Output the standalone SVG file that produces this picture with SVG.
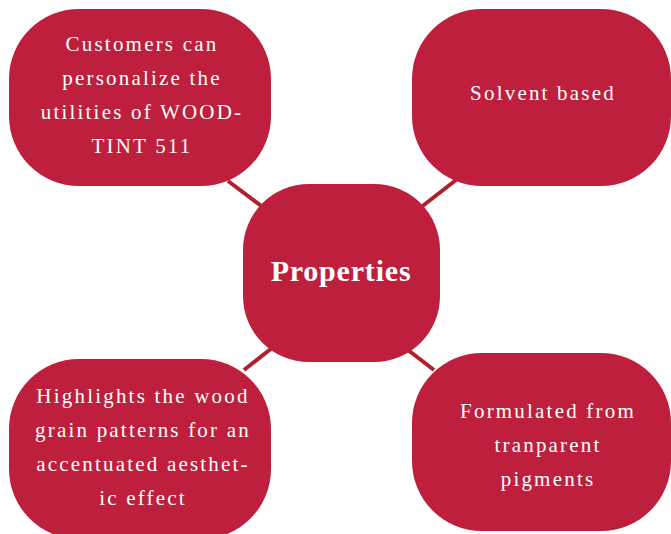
<svg xmlns="http://www.w3.org/2000/svg" width="671" height="534" viewBox="0 0 671 534">
<style>
.box{fill:#BE1F3C}
.t{font-family:"Liberation Serif","DejaVu Serif",serif;font-size:21px;fill:#fff;text-anchor:middle;letter-spacing:2.2px}
.c{stroke:#B0202A;stroke-width:4;fill:none}
</style>
<rect width="671" height="534" fill="#fff"/>
<g id="connectors">
<line class="c" x1="228" y1="181" x2="264" y2="208"/>
<line class="c" x1="456" y1="180" x2="420" y2="208"/>
<line class="c" x1="272" y1="348" x2="244" y2="370"/>
<line class="c" x1="408" y1="350" x2="434" y2="370"/>
</g>
<g id="n-center">
<rect class="box" x="243" y="184" width="197" height="178" rx="66" ry="66"/>
<text x="341" y="281" style="font-family:'Liberation Serif','DejaVu Serif',serif;font-size:30px;font-weight:bold;fill:#fff;text-anchor:middle;letter-spacing:0.8px">Properties</text>
</g>
<g id="n-tl">
<rect class="box" x="9" y="9" width="262" height="177" rx="70" ry="70"/>
<text class="t" x="142" y="51">Customers can</text>
<text class="t" x="142" y="85">personalize the</text>
<text class="t" x="142" y="119">utilities of WOOD-</text>
<text class="t" x="142" y="153">TINT 511</text>
</g>
<g id="n-tr">
<rect class="box" x="412" y="9" width="259" height="177" rx="70" ry="70"/>
<text class="t" x="543" y="100">Solvent based</text>
</g>
<g id="n-bl">
<rect class="box" x="9" y="359" width="262" height="180" rx="70" ry="70"/>
<text class="t" x="143" y="403">Highlights the wood</text>
<text class="t" x="143" y="437">grain patterns for an</text>
<text class="t" x="143" y="471">accentuated aesthet-</text>
<text class="t" x="143" y="505">ic effect</text>
</g>
<g id="n-br">
<rect class="box" x="412" y="353" width="259" height="178" rx="70" ry="70"/>
<text class="t" x="548" y="418">Formulated from</text>
<text class="t" x="548" y="452">tranparent</text>
<text class="t" x="548" y="486">pigments</text>
</g>
</svg>
